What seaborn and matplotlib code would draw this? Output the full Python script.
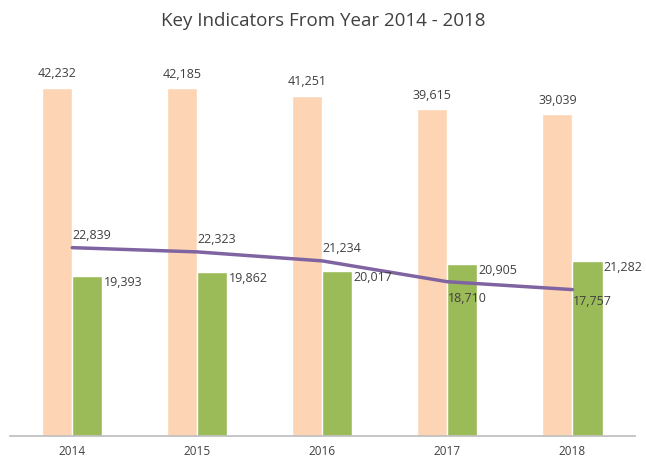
import matplotlib
matplotlib.use("Agg")
import matplotlib.pyplot as plt
import seaborn as sns
import numpy as np

years = ["2014", "2015", "2016", "2017", "2018"]
series_a = [42232, 42185, 41251, 39615, 39039]
series_b = [19393, 19862, 20017, 20905, 21282]
series_line = [22839, 22323, 21234, 18710, 17757]

sns.set_theme(style="white")
plt.rcParams["font.family"] = ["Open Sans", "DejaVu Sans"]

fig = plt.figure(figsize=(6.46, 4.67), dpi=100)
ax = fig.add_axes([0.015, 0.066, 0.968, 0.806])

x = np.arange(len(years))
w = 0.24
ax.bar(x - w / 2, series_a, width=w, color="#FDD5B4")
ax.bar(x + w / 2, series_b, width=w, color="#9BBB59")
sns.lineplot(x=x, y=series_line, ax=ax, color="#8064A2", linewidth=2.5)

for i in range(len(years)):
    ax.text(x[i] - w / 2, series_a[i] + 900, f"{series_a[i]:,}", ha="center", va="bottom", fontsize=9, color="#404040")
    ax.text(x[i] + w + 0.01, series_b[i] - 800, f"{series_b[i]:,}", ha="left", va="center", fontsize=9, color="#404040")
    if i == 3:
        ax.text(x[i], series_line[i] - 1200, f"{series_line[i]:,}", ha="left", va="top", fontsize=9, color="#404040")
    elif i == 4:
        ax.text(x[i], series_line[i] - 600, f"{series_line[i]:,}", ha="left", va="top", fontsize=9, color="#404040")
    else:
        ax.text(x[i], series_line[i] + 700, f"{series_line[i]:,}", ha="left", va="bottom", fontsize=9, color="#404040")

ax.set_xlim(-0.5, 4.5)
ax.set_ylim(0, 45600)
ax.set_xticks(x)
ax.set_xticklabels(years, fontsize=8.5, color="#404040")
ax.set_yticks([])
for s in ["top", "left", "right"]:
    ax.spines[s].set_visible(False)
ax.spines["bottom"].set_color("#BFBFBF")
ax.tick_params(axis="x", length=0, pad=6)

fig.suptitle("Key Indicators From Year 2014 - 2018", y=0.975, fontsize=13.5, color="#404040")

fig.savefig("out.png", dpi=100)
